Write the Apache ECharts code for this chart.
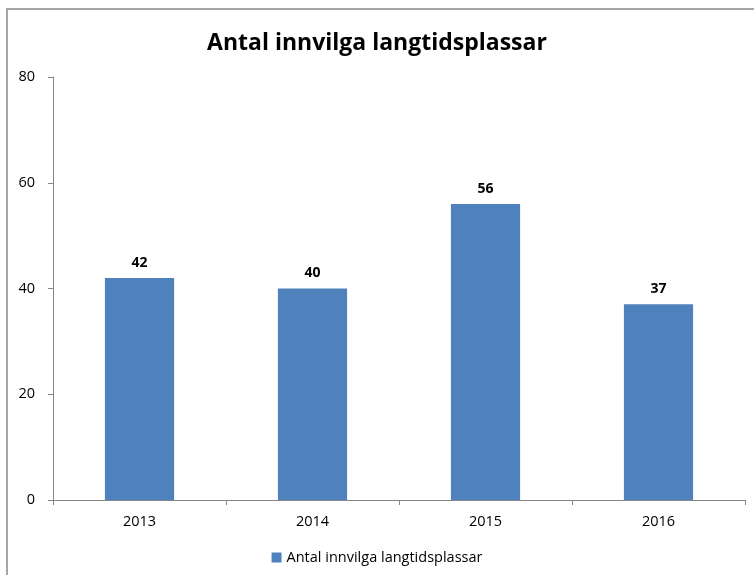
<!DOCTYPE html>
<html><head><meta charset="utf-8">
<script src="https://cdn.jsdelivr.net/npm/echarts@6/dist/echarts.min.js"></script>
<style>html,body{margin:0;padding:0;background:#fff}#c{width:754px;height:575px}</style>
</head><body><div id="c"></div>
<script>
const categories = ['2013', '2014', '2015', '2016'];
const values = [42, 40, 56, 37];
const seriesName = 'Antal innvilga langtidsplassar';
const titleText = 'Antal innvilga langtidsplassar';
const yTicks = { min: 0, max: 80, interval: 20 };

const chart = echarts.init(document.getElementById('c'), null, { renderer: 'canvas' });
const font = "'Open Sans', 'Noto Sans', sans-serif";
chart.setOption({
  animation: false,
  backgroundColor: '#fff',
  graphic: [{
    type: 'rect', shape: { x: 7, y: 9, width: 800, height: 700 },
    style: { fill: 'none', stroke: '#a6a6a6', lineWidth: 2 }, silent: true, z: -1
  }],
  title: {
    text: titleText, left: 'center', top: 27,
    textStyle: { fontFamily: font, fontSize: 23, fontWeight: 'bold', color: '#000' }
  },
  legend: {
    data: [seriesName], bottom: 5, left: 'center', itemWidth: 10, itemHeight: 10,
    icon: 'rect', itemGap: 4,
    textStyle: { fontFamily: font, fontSize: 14.5, color: '#000' }
  },
  grid: { left: 53, right: 9, top: 77, bottom: 75, containLabel: false },
  xAxis: {
    type: 'category', data: categories,
    axisLine: { lineStyle: { color: '#868686' } },
    axisTick: { show: true, length: 5, alignWithLabel: false, lineStyle: { color: '#868686' } },
    axisLabel: { fontFamily: font, fontSize: 14.5, color: '#000', margin: 14 }
  },
  yAxis: {
    type: 'value', min: yTicks.min, max: yTicks.max, interval: yTicks.interval,
    splitLine: { show: false },
    axisLine: { show: true, lineStyle: { color: '#868686' } },
    axisTick: { show: true, length: 5, lineStyle: { color: '#868686' } },
    axisLabel: { fontFamily: font, fontSize: 14.5, color: '#000', margin: 18 }
  },
  series: [{
    name: seriesName, type: 'bar', data: values, barWidth: '40%',
    itemStyle: { color: '#4f81bd' },
    label: { show: true, position: 'top', distance: 8, fontFamily: font, fontSize: 14, fontWeight: 'bold', color: '#000' }
  }]
});
</script></body></html>
